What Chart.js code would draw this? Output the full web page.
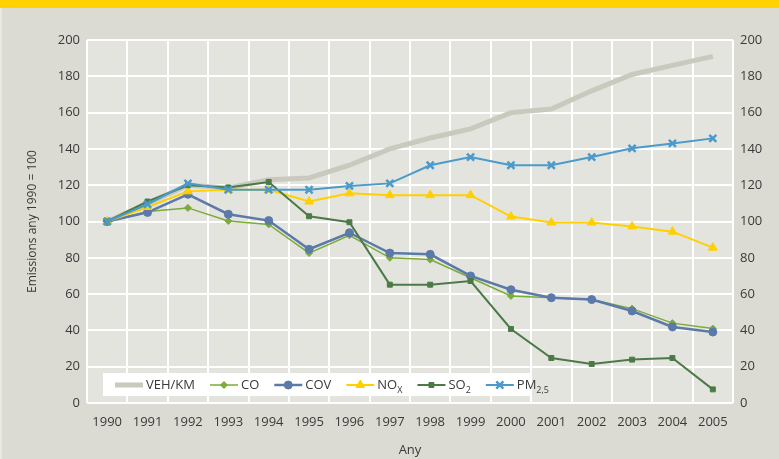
<!DOCTYPE html>
<html>
<head>
<meta charset="utf-8">
<script src="https://cdn.jsdelivr.net/npm/chart.js@4.4.1/dist/chart.umd.min.js"></script>
<style>
body { margin: 0; background: #dcdbd3; }
canvas { display: block; }
</style>
</head>
<body>
<canvas id="emissions-chart" width="779" height="459"></canvas>
<script>
// values (index 1990 = 100)
const years = ['1990', '1991', '1992', '1993', '1994', '1995', '1996', '1997',
    '1998', '1999', '2000', '2001', '2002', '2003', '2004', '2005'];
const vehKm = [100, 110, 120, 118.5, 123, 124, 131, 140, 146, 151, 160, 162, 172, 181, 186, 191];
const co = [100, 105.5, 107.5, 100.3, 98.4, 82.6, 92.4, 80, 79, 69, 59, 58, 57, 52, 44, 41];
const cov = [100, 105, 115, 104, 100.5, 84.7, 93.8, 82.6, 81.9, 70, 62.4, 58, 57, 50.7, 41.9, 39.1];
const nox = [100, 108, 116.6, 117.5, 117.5, 111, 115.5, 114.5, 114.5, 114.5, 102.7, 99.4, 99.4, 97.3, 94.4, 85.6];
const so2 = [100, 111, 120, 118.8, 121.8, 102.9, 99.6, 65.2, 65.2, 67.2, 40.8, 24.8, 21.5, 23.9, 24.8, 7.5];
const pm25 = [100, 109.5, 121, 117.5, 117.5, 117.5, 119.6, 121, 131, 135.5, 131, 131, 135.5, 140.3, 143, 145.8];

const seriesNames = ['VEH/KM', 'CO', 'COV', 'NO', 'SO', 'PM'];
const seriesSubs = ['', '', '', 'X', '2', '2,5'];
const yTicks = [0, 20, 40, 60, 80, 100, 120, 140, 160, 180, 200];

const FONT = "'Open Sans', sans-serif";
const TEXT = '#3a3a3a';

const backdrop = {
    id: 'backdrop',
    beforeDraw(chart) {
        const {ctx, chartArea: a, width, height} = chart;
        ctx.save();
        ctx.fillStyle = '#dcdbd3';
        ctx.fillRect(0, 0, width, height);
        ctx.fillStyle = '#ffd200';
        ctx.fillRect(0, 0, width, 8);
        ctx.fillStyle = '#e9e8e2';
        ctx.fillRect(0, 8, 2, height - 8);
        ctx.fillStyle = '#e4e4df';
        ctx.fillRect(a.left, a.top, a.right - a.left, a.bottom - a.top);
        ctx.restore();
    }
};

// legend box sits inside the plot, bottom left
const boxLegend = {
    id: 'boxLegend',
    afterDraw(chart) {
        const {ctx, chartArea: a} = chart;
        const left = a.left + 16, top = a.bottom - 30;
        ctx.save();
        ctx.fillStyle = '#ffffff';
        ctx.fillRect(left, top, 429, 23);
        let x = left + 12;
        const cy = top + 12;
        chart.data.datasets.forEach((ds, i) => {
            ctx.strokeStyle = ds.borderColor;
            ctx.fillStyle = ds.pointBackgroundColor || ds.borderColor;
            ctx.lineWidth = ds.borderWidth;
            ctx.beginPath();
            ctx.moveTo(x, cy);
            ctx.lineTo(x + 28, cy);
            ctx.stroke();
            if (ds.pointRadius > 0) {
                ctx.lineWidth = ds.pointBorderWidth || 1;
                Chart.helpers.drawPoint(ctx, {
                    pointStyle: ds.pointStyle,
                    radius: ds.pointRadius,
                    rotation: 0,
                    borderWidth: ds.pointBorderWidth || 1
                }, x + 14, cy);
            }
            x += 31;
            ctx.fillStyle = TEXT;
            ctx.textBaseline = 'middle';
            ctx.font = '13px ' + FONT;
            ctx.fillText(seriesNames[i], x, cy);
            x += ctx.measureText(seriesNames[i]).width;
            if (seriesSubs[i]) {
                ctx.font = '9px ' + FONT;
                ctx.fillText(seriesSubs[i], x, cy + 5);
                x += ctx.measureText(seriesSubs[i]).width;
            }
            x += 15;
        });
        ctx.restore();
    }
};

function line(label, data, color, width, style, radius, order, extra) {
    return Object.assign({
        label: label,
        data: data,
        borderColor: color,
        backgroundColor: color,
        pointBackgroundColor: color,
        pointBorderColor: color,
        borderWidth: width,
        pointStyle: style,
        pointRadius: radius,
        pointHoverRadius: radius,
        pointBorderWidth: 1,
        tension: 0,
        order: order,
        yAxisID: 'y'
    }, extra || {});
}

const config = {
    type: 'line',
    data: {
        labels: years,
        datasets: [
            line('VEH/KM', vehKm, '#c9c9bd', 5, 'circle', 0, 6),
            line('CO', co, '#7aab38', 1.5, 'rectRot', 3.5, 5),
            line('COV', cov, '#5b79a9', 2.5, 'circle', 4, 4),
            line('NOX', nox, '#ffd000', 2, 'triangle', 5, 3),
            line('SO2', so2, '#4b7a47', 2, 'rect', 3.5, 2),
            line('PM2,5', pm25, '#4a9acb', 2, 'crossRot', 5, 1, {pointBorderWidth: 2.5})
        ]
    },
    options: {
        responsive: false,
        animation: false,
        layout: {padding: {top: 40, left: 0, right: 0, bottom: 0}},
        plugins: {legend: {display: false}, tooltip: {enabled: false}},
        scales: {
            x: {
                offset: true,
                grid: {color: '#ffffff', lineWidth: 2, drawTicks: false, offset: true},
                border: {display: false},
                ticks: {color: TEXT, font: {family: FONT, size: 13}, padding: 11, maxRotation: 0},
                title: {display: true, text: 'Any', color: TEXT, font: {family: FONT, size: 13}, padding: {top: 0, bottom: 1}},
                afterFit(scale) { scale.height = 56; }
            },
            y: {
                position: 'left',
                min: 0,
                max: 200,
                afterBuildTicks(scale) { scale.ticks = yTicks.map(v => ({value: v})); },
                grid: {color: '#ffffff', lineWidth: 2, drawTicks: false},
                border: {display: false},
                ticks: {color: TEXT, font: {family: FONT, size: 13}, padding: 7},
                title: {display: true, text: 'Emissions any 1990 = 100', color: TEXT, font: {family: FONT, size: 12}, padding: {top: 25, bottom: 0}},
                afterFit(scale) { scale.width = 87; }
            },
            y2: {
                position: 'right',
                min: 0,
                max: 200,
                afterBuildTicks(scale) { scale.ticks = yTicks.map(v => ({value: v})); },
                grid: {display: false, drawTicks: false},
                border: {display: false},
                ticks: {color: TEXT, font: {family: FONT, size: 13}, padding: 7},
                afterFit(scale) { scale.width = 46; }
            }
        }
    },
    plugins: [backdrop, boxLegend]
};

window.onload = function() {
    let ctx = document.getElementById('emissions-chart').getContext('2d');
    window.emissionsChart = new Chart(ctx, config);
};
</script>
</body>
</html>
